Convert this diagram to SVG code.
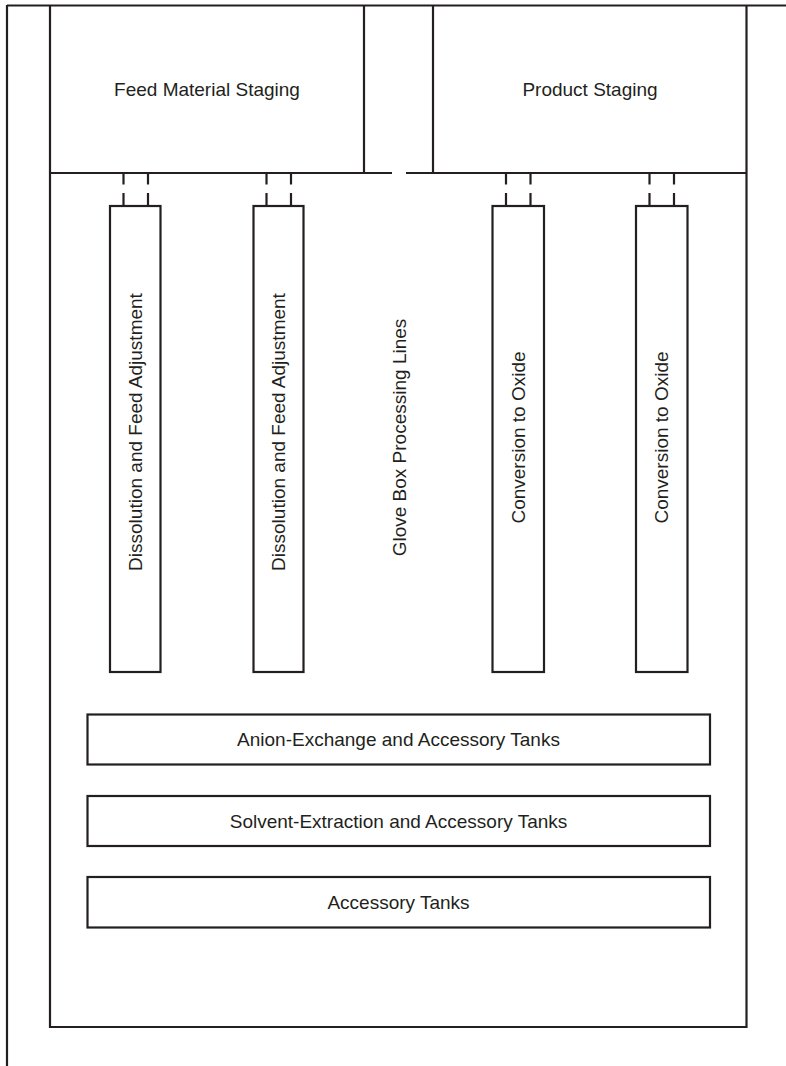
<svg xmlns="http://www.w3.org/2000/svg" width="786" height="1066" viewBox="0 0 786 1066">
  <style>
    .ln { fill: none; stroke: #231f20; stroke-width: 2.2; }
    .box { fill: #ffffff; stroke: #231f20; stroke-width: 2.2; }
    .stub { fill: none; stroke: #231f20; stroke-width: 2.2; stroke-dasharray: 11.5 8.5 20; }
    .lbl { font-family: "Liberation Sans", Arial, sans-serif; font-size: 19px; fill: #231f20; text-anchor: middle; }
  </style>
  <rect width="786" height="1066" fill="#ffffff"/>

  <!-- building outline -->
  <g id="building">
    <line class="ln" x1="7" y1="5.5" x2="786" y2="5.5"/>
    <line class="ln" x1="7" y1="5" x2="7" y2="1066"/>
  </g>

  <!-- glove box enclosure -->
  <g id="glove-box">
    <path class="ln" d="M50 5 V1027 H746.5 V5"/>
    <line class="ln" x1="50" y1="173" x2="392" y2="173"/>
    <line class="ln" x1="406" y1="173" x2="746.5" y2="173"/>
    <text class="lbl" transform="translate(405.5 437.5) rotate(-90)">Glove Box Processing Lines</text>
  </g>

  <g id="feed-staging">
    <line class="ln" x1="364" y1="5" x2="364" y2="173"/>
    <text class="lbl" x="207" y="96">Feed Material Staging</text>
  </g>

  <g id="product-staging">
    <line class="ln" x1="433" y1="5" x2="433" y2="173"/>
    <text class="lbl" x="590" y="96">Product Staging</text>
  </g>

  <!-- vertical processing lines -->
  <g id="dissolution-1">
    <rect class="box" x="110" y="206" width="50.5" height="466"/>
    <text class="lbl" transform="translate(141.5 432) rotate(-90)">Dissolution and Feed Adjustment</text>
  </g>
  <g id="dissolution-2">
    <rect class="box" x="253.5" y="206" width="50" height="466"/>
    <text class="lbl" transform="translate(285 432) rotate(-90)">Dissolution and Feed Adjustment</text>
  </g>
  <g id="conversion-1">
    <rect class="box" x="492.5" y="206" width="51.5" height="466"/>
    <text class="lbl" transform="translate(524.5 437.5) rotate(-90)">Conversion to Oxide</text>
  </g>
  <g id="conversion-2">
    <rect class="box" x="636" y="206" width="51.5" height="466"/>
    <text class="lbl" transform="translate(668 437.5) rotate(-90)">Conversion to Oxide</text>
  </g>

  <!-- horizontal tank rows -->
  <g id="anion-exchange">
    <rect class="box" x="87.5" y="714.5" width="622.5" height="50"/>
    <text class="lbl" x="398.5" y="746">Anion-Exchange and Accessory Tanks</text>
  </g>
  <g id="solvent-extraction">
    <rect class="box" x="87.5" y="796" width="622.5" height="50"/>
    <text class="lbl" x="398.5" y="827.5">Solvent-Extraction and Accessory Tanks</text>
  </g>
  <g id="accessory-tanks">
    <rect class="box" x="87.5" y="877" width="622.5" height="50.5"/>
    <text class="lbl" x="398.5" y="908.5">Accessory Tanks</text>
  </g>

  <!-- staging connections -->
  <g id="connectors">
    <line class="stub" x1="123.5" y1="173" x2="123.5" y2="206"/>
    <line class="stub" x1="148" y1="173" x2="148" y2="206"/>
    <line class="stub" x1="266.5" y1="173" x2="266.5" y2="206"/>
    <line class="stub" x1="291" y1="173" x2="291" y2="206"/>
    <line class="stub" x1="506" y1="173" x2="506" y2="206"/>
    <line class="stub" x1="530.5" y1="173" x2="530.5" y2="206"/>
    <line class="stub" x1="649.5" y1="173" x2="649.5" y2="206"/>
    <line class="stub" x1="674" y1="173" x2="674" y2="206"/>
  </g>
</svg>
